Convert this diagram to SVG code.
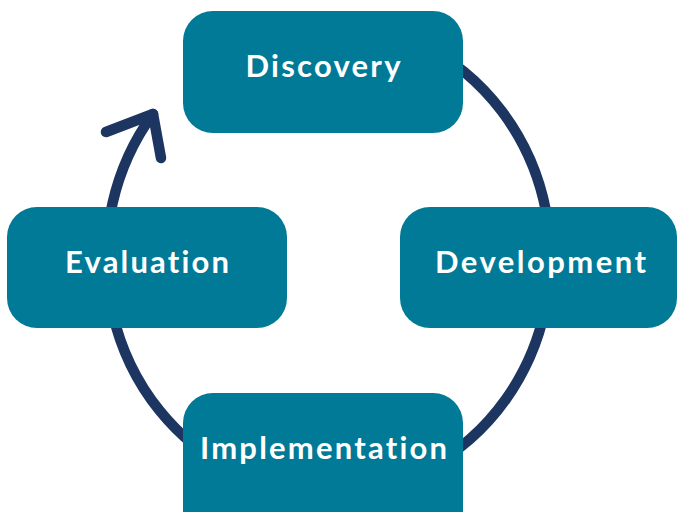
<svg xmlns="http://www.w3.org/2000/svg" width="677" height="512" viewBox="0 0 677 512">
  <style>
    .box { fill: #007A96; }
    .lbl { fill: #FFFFFF; font-family: Lato, "Open Sans", "Liberation Sans", sans-serif; font-weight: bold; font-size: 31px; text-anchor: middle; font-variant-ligatures: none; font-feature-settings: "liga" 0; }
    .conn { fill: none; stroke: #1D3561; stroke-width: 10.5; stroke-linecap: round; stroke-linejoin: round; }
  </style>
  <rect width="677" height="512" fill="#FFFFFF"/>
  <g id="connectors">
    <path class="conn" d="M 329 23 A 222 235 0 1 1 153 114"/>
    <path class="conn" d="M 106 132 L 153 114 L 161 158"/>
  </g>
  <g id="discovery">
    <rect class="box" x="183" y="11" width="280" height="122" rx="30"/>
    <text class="lbl" x="323" y="77" textLength="155" lengthAdjust="spacing">Discovery</text>
  </g>
  <g id="development">
    <rect class="box" x="400" y="207" width="277" height="121" rx="30"/>
    <text class="lbl" x="540.5" y="273" textLength="211" lengthAdjust="spacing">Development</text>
  </g>
  <g id="implementation">
    <rect class="box" x="183" y="393" width="280" height="150" rx="30"/>
    <text class="lbl" x="323.5" y="459" textLength="247" lengthAdjust="spacing">Implementation</text>
  </g>
  <g id="evaluation">
    <rect class="box" x="7" y="207" width="280" height="121" rx="30"/>
    <text class="lbl" x="147" y="273" textLength="164" lengthAdjust="spacing">Evaluation</text>
  </g>
</svg>
